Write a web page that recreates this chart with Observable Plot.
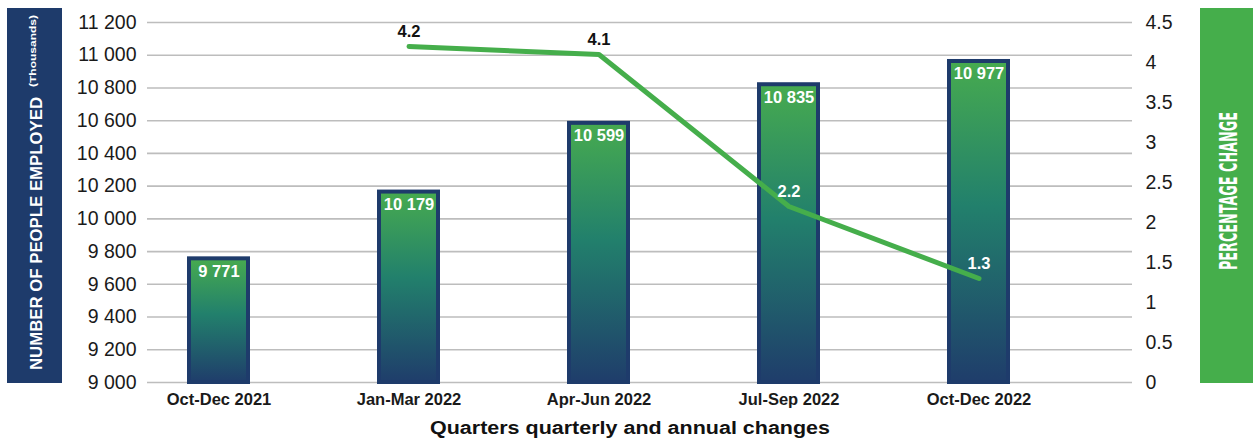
<!DOCTYPE html>
<html><head><meta charset="utf-8">
<script src="https://cdn.jsdelivr.net/npm/d3@7"></script>
<script src="https://cdn.jsdelivr.net/npm/@observablehq/plot@0.6"></script>
<style>
html,body{margin:0;padding:0;background:#fff;}
#wrap{position:relative;width:1253px;height:440px;overflow:hidden;font-family:"Liberation Sans",Arial,sans-serif;}
#overlay{position:absolute;left:0;top:0;pointer-events:none;}
#chart svg{display:block;}
</style></head><body>
<div id="wrap"><div id="chart"></div><svg id="overlay" width="1253" height="440"></svg></div>
<script>
const quarters = ["Oct-Dec 2021","Jan-Mar 2022","Apr-Jun 2022","Jul-Sep 2022","Oct-Dec 2022"];
const employed = [9771, 10179, 10599, 10835, 10977];
const pctQuarters = ["Jan-Mar 2022","Apr-Jun 2022","Jul-Sep 2022","Oct-Dec 2022"];
const pctChange = [4.2, 4.1, 2.2, 1.3];
const leftTicks = [9000,9200,9400,9600,9800,10000,10200,10400,10600,10800,11000,11200];
const rightTicks = [0,0.5,1,1.5,2,2.5,3,3.5,4,4.5];
const leftDomain = [9000, 11200];
const rightDomain = [0, 4.5];
const leftTitle = "NUMBER OF PEOPLE EMPLOYED";
const leftSub = "(Thousands)";
const rightTitle = "PERCENTAGE CHANGE";
const xTitle = "Quarters quarterly and annual changes";

const toLeft = p => leftDomain[0] + (p - rightDomain[0]) / (rightDomain[1] - rightDomain[0]) * (leftDomain[1] - leftDomain[0]);
const fromLeft = v => rightDomain[0] + (v - leftDomain[0]) / (leftDomain[1] - leftDomain[0]) * (rightDomain[1] - rightDomain[0]);
const fmt = v => d3.format(",")(v).replace(/,/g, " ");

const bars = quarters.map((q, i) => ({q, v: employed[i]}));
const empByQ = new Map(bars.map(d => [d.q, d.v]));
const pcts = pctQuarters.map((q, i) => ({q, p: pctChange[i], y: toLeft(pctChange[i])}));

const GREEN = "#45ae4b", NAVY = "#1e3b6b";

const plot = Plot.plot({
  width: 1253, height: 410,
  marginLeft: 147, marginRight: 121, marginTop: 22, marginBottom: 28,
  style: {fontFamily: "'Liberation Sans', Arial, sans-serif", color: "#1a1a1a", background: "transparent"},
  x: {domain: quarters, paddingInner: 0.69, paddingOuter: 0.43, align: 0.253, label: null},
  y: {domain: leftDomain, label: null},
  color: {type: "identity"},
  marks: [
    Plot.gridY(leftTicks, {stroke: "#bdbdbd", strokeOpacity: 1, strokeWidth: 1.6}),
    Plot.axisY(leftTicks, {anchor: "left", tickSize: 0, tickPadding: 11, tickFormat: fmt, fontSize: 19.5, label: null}),
    Plot.axisY(rightTicks.map(toLeft), {anchor: "right", tickSize: 0, tickPadding: 13, tickFormat: d => String(Math.round(fromLeft(d) * 10) / 10), fontSize: 19.5, label: null}),
    Plot.axisX({tickSize: 0, tickPadding: 11, fontSize: 16.5, fontWeight: "bold", label: null}),
    Plot.barY(bars, {x: "q", y1: leftDomain[0], y2: "v", insetTop: 2.5, fill: "url(#barGrad)", stroke: NAVY, strokeWidth: 4}),
    Plot.text(bars, {x: "q", y: "v", text: d => fmt(d.v), dy: 15, fill: "white", fontWeight: "bold", fontSize: 16.5}),
    Plot.line(pcts, {x: "q", y: "y", stroke: GREEN, strokeWidth: 5, strokeLinecap: "round", strokeLinejoin: "round"}),
    Plot.text(pcts, {x: "q", y: "y", text: d => String(d.p), dy: -15, fill: d => (d.y < empByQ.get(d.q) ? "white" : "#111"), fontWeight: "bold", fontSize: 16.5})
  ]
});
document.getElementById("chart").appendChild(plot);

// gradient definition for bars
const svgSel = d3.select(plot.tagName.toLowerCase() === "svg" ? plot : plot.querySelector("svg"));
const grad = svgSel.insert("defs", ":first-child").append("linearGradient")
  .attr("id", "barGrad").attr("x1", 0).attr("y1", 0).attr("x2", 0).attr("y2", 1);
grad.append("stop").attr("offset", "0%").attr("stop-color", "#47ab4f");
grad.append("stop").attr("offset", "45%").attr("stop-color", "#22806c");
grad.append("stop").attr("offset", "100%").attr("stop-color", "#1f3d6b");

// decorative side labels and x title
const ov = d3.select("#overlay");
ov.append("rect").attr("x", 7).attr("y", 8).attr("width", 55).attr("height", 375).attr("fill", NAVY);
ov.append("text").attr("transform", "translate(42,370) rotate(-90)")
  .attr("fill", "white").attr("font-weight", "bold").attr("font-size", 16)
  .attr("textLength", 273).attr("lengthAdjust", "spacingAndGlyphs").text(leftTitle);
ov.append("text").attr("transform", "translate(36,87) rotate(-90)")
  .attr("fill", "white").attr("font-weight", "bold").attr("font-size", 9.5)
  .attr("textLength", 72).attr("lengthAdjust", "spacingAndGlyphs").text(leftSub);
ov.append("rect").attr("x", 1200).attr("y", 8).attr("width", 53).attr("height", 375).attr("fill", GREEN);
const rt = ov.append("text")
  .attr("fill", "white").attr("font-size", 20).attr("font-weight", "bold")
  .attr("font-family", "'Liberation Sans Narrow','DejaVu Sans Condensed','Liberation Sans',sans-serif")
  .text(rightTitle);
const natLen = rt.node().getComputedTextLength() || 158;
rt.attr("transform", `translate(1237,270) rotate(-90) scale(${158 / natLen},1.25)`);
ov.append("text").attr("x", 630).attr("y", 434).attr("text-anchor", "middle")
  .attr("fill", "#111").attr("font-weight", "bold").attr("font-size", 18)
  .attr("textLength", 400).attr("lengthAdjust", "spacingAndGlyphs").text(xTitle);
</script>
</body></html>
